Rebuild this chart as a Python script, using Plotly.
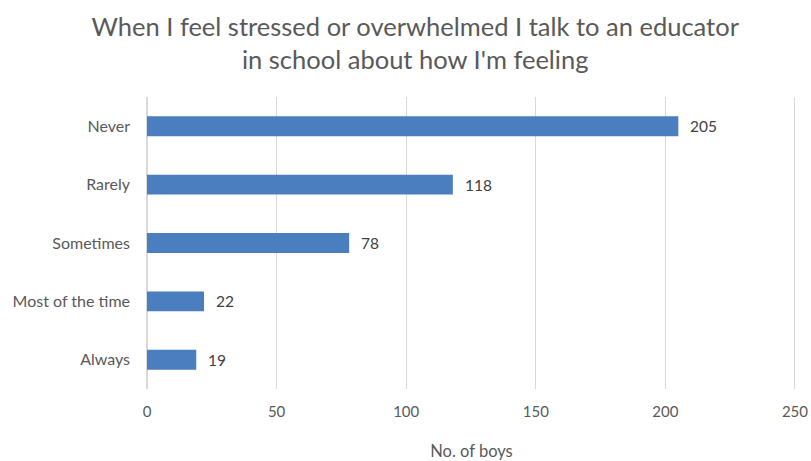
import plotly.graph_objects as go

categories = ["Never", "Rarely", "Sometimes", "Most of the time", "Always"]
values = [205, 118, 78, 22, 19]
x_ticks = [0, 50, 100, 150, 200, 250]

FONT = "Lato, 'Open Sans', sans-serif"
GREY = "#595959"

fig = go.Figure(go.Bar(
    x=values, y=categories, orientation="h",
    marker=dict(color="#4A7EBF", line=dict(width=0)),
    width=0.34,
    hoverinfo="x+y",
))

for c, v in zip(categories, values):
    fig.add_annotation(
        x=v, y=c, text=str(v), showarrow=False, xanchor="left", xshift=10,
        font=dict(family=FONT, size=15.5, color="#404040"),
    )

fig.update_layout(
    width=811, height=461,
    margin=dict(l=147, r=15, t=97, b=72, autoexpand=False),
    paper_bgcolor="white", plot_bgcolor="white",
    title=dict(
        text="When I feel stressed or overwhelmed I talk to an educator<br>in school about how I'm feeling",
        x=0.512, xanchor="center", y=0.922, yanchor="middle",
        font=dict(family=FONT, size=25.5, color=GREY),
    ),
    xaxis=dict(
        range=[0, 250.4], tickvals=x_ticks, showgrid=True, gridcolor="#D9D9D9", gridwidth=1,
        zeroline=True, zerolinecolor="#D9D9D9", showline=False, automargin=False,
        tickfont=dict(family=FONT, size=15, color=GREY), ticks="", ticklabelstandoff=12,
        title=dict(text="No. of boys", font=dict(family=FONT, size=16.5, color=GREY), standoff=28),
    ),
    yaxis=dict(
        categoryorder="array", categoryarray=categories[::-1],
        showgrid=False, ticks="", showline=False, automargin=False,
        tickfont=dict(family=FONT, size=16, color=GREY), ticklabelstandoff=16,
    ),
    showlegend=False,
)

fig.write_html("out.html")
